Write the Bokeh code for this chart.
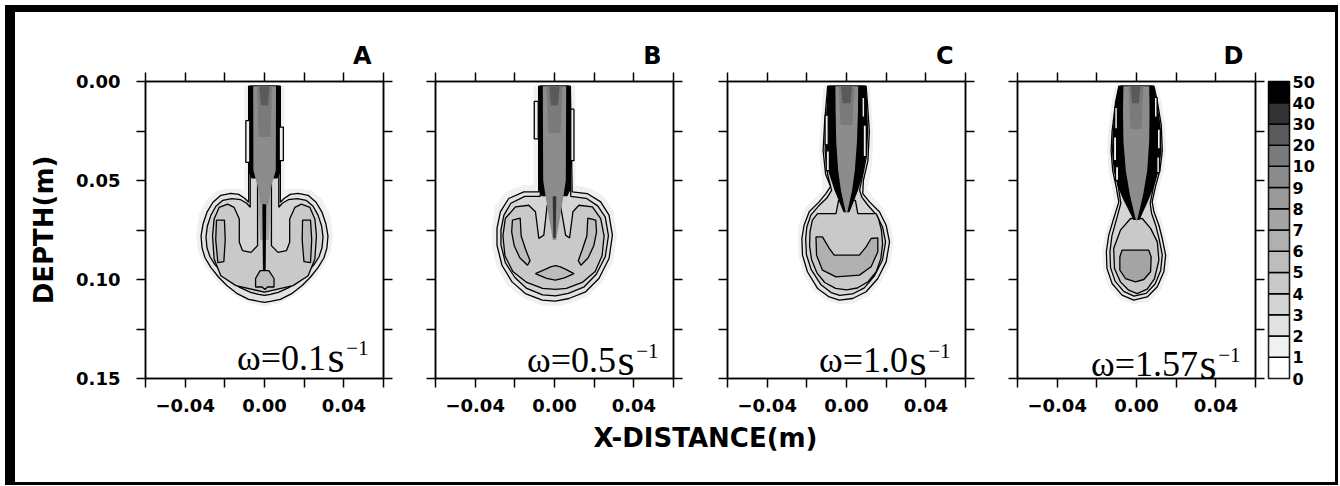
from bokeh.plotting import figure
from bokeh.models import Range1d, FixedTicker, LinearAxis, CustomJSTickFormatter, ColumnDataSource, Label
from bokeh.layouts import row, column
from bokeh.embed import file_html
from bokeh.resources import INLINE
from bokeh.core.properties import field

# ---------------- data ----------------
LEVEL_LABELS = ["0", "1", "2", "3", "4", "5", "6", "7", "8", "9", "10", "20", "30", "40", "50"]
COLORS = ["#ffffff", "#f0f0f0", "#e2e2e2", "#d5d5d5", "#c9c9c9", "#bdbdbd", "#b0b0b0",
          "#a4a4a4", "#9a9a9a", "#8c8c8c", "#7a7a7a", "#5a5a5a", "#333333", "#000000"]
LETTERS = ["A", "B", "C", "D"]
OMEGAS = ["0.1", "0.5", "1.0", "1.57"]
X_TICKS = [-0.04, 0.0, 0.04]
X_MINOR = [-0.06, -0.02, 0.02, 0.06]
Y_TICKS = [0.0, 0.05, 0.10, 0.15]
Y_MINOR = [0.025, 0.075, 0.125]

# contour regions: (colour index, outlined, x [mm], depth [mm])
A_SHAPES = [
    (1, False, [-10, -10, -17, -24, -29, -33, -34.5, -33.5, -30, -24, -16, -8, 0, 8, 16, 24, 30, 33.5, 34.5, 33, 29, 24, 17, 10, 10],
               [2, 54.5, 54, 55, 59.5, 67, 77.5, 86, 93, 101, 107.5, 112, 113.5, 112, 107.5, 101, 93, 86, 77.5, 67, 59.5, 55, 54, 54.5, 2]),
    (2, True, [-8, -8, -10, -13, -17, -22, -26, -29, -31, -32, -31.5, -30, -27, -23, -19, -14, -8, -3, 0, 3, 8, 14, 19, 23, 27, 30, 31.5, 32, 31, 29, 26, 22, 17, 13, 10, 8, 8],
              [2.4, 61, 59, 57, 56.5, 57.5, 61, 66, 72, 78, 84, 89, 94, 99, 103, 107, 110, 111, 111.5, 111, 110, 107, 103, 99, 94, 89, 84, 78, 72, 66, 61, 57.5, 56.5, 57, 59, 61, 2.4]),
    (3, True, [-7.2, -7.2, -9, -12, -16.5, -21, -24.5, -27, -28.8, -29.5, -29, -27.5, -25, -21, -17, -12.5, -7, -3, 0, 3, 7, 12.5, 17, 21, 25, 27.5, 29, 29.5, 28.8, 27, 24.5, 21, 16.5, 12, 9, 7.2, 7.2],
              [2.4, 63.5, 61.5, 59.7, 59.2, 60, 63, 67.5, 73, 78.5, 84, 88.5, 92.5, 97, 100.5, 104, 106.5, 107.5, 108, 107.5, 106.5, 104, 100.5, 97, 92.5, 88.5, 84, 78.5, 73, 67.5, 63, 60, 59.2, 59.7, 61.5, 63.5, 2.4]),
    (4, True, [-3.5, -3.5, -6.8, -11.1, -12.7, -12.7, -15.3, -18.6, -22.9, -25.4, -26.2, -25.4, -22.0, -14.4, 0, 14.4, 22.0, 25.4, 26.2, 25.4, 22.9, 18.6, 15.3, 12.7, 12.7, 11.1, 6.8, 3.5, 3.5],
              [47.6, 82.9, 86.3, 85.4, 81.2, 69.4, 63.6, 61.9, 63.6, 69.4, 77.9, 89.6, 98.1, 103.1, 106.4, 103.1, 98.1, 89.6, 77.9, 69.4, 63.6, 61.9, 63.6, 69.4, 81.2, 85.4, 86.3, 82.9, 47.6]),
    (5, True, [-24.2, -20.2, -19.8, -20.5, -23.5, -24.6], [70, 70, 80, 91, 91.5, 80]),
    (5, True, [19.2, 23.2, 23.8, 23.2, 19.9, 19.0], [70, 70, 80, 91.5, 91, 80]),
    (7, False, [-3.5, 3.5, 2.2, -2.2], [50, 50, 80, 80]),
    (13, False, [-1.2, 1.0, 0.6, -0.8], [50, 50, 95.5, 95.5]),
    (5, True, [-2.2, 2.2, 4.8, 4.8, 1.5, 0.2, -1.2, -4.5, -4.5], [95.5, 95.5, 99.5, 103.8, 103.8, 105, 103.8, 103.8, 99.5]),
    (13, False, [-8, 8, 8, 6.5, -6.5, -8], [2.4, 2.4, 46, 49, 49, 46]),
    (1, True, [-9.4, -7.4, -7.4, -9.4], [19.8, 19.8, 40.8, 40.8]),
    (1, True, [7.4, 9.5, 9.5, 7.4], [23, 23, 40, 40]),
    (9, False, [-5.7, 5.8, 5.7, 3.6, 2.0, -2.0, -3.6, -5.6], [2.4, 2.4, 45, 52, 62, 62, 52, 45]),
    (10, False, [-3.8, 3.8, 3.0, -3.0], [2.4, 2.4, 28, 28]),
    (11, False, [-2.6, 2.6, 1.8, -1.8], [2.4, 2.4, 12, 12]),
]

B_SHAPES = [
    (1, False, [-10.5, -10.5, -17, -25, -30, -31.5, -31.5, -29, -23.5, -15.5, -6.5, 0.5, 8, 16.5, 24, 29.5, 31.5, 30, 25, 17, 10.5, 10.5],
               [2, 52, 52.5, 56, 63, 74, 84, 94, 103.5, 109.5, 113, 113.5, 112, 108.5, 101.5, 91, 78, 66, 58, 53.5, 52.5, 2]),
    (2, True, [-7.9, -7.9, -15.5, -23.1, -27.3, -29.0, -29.0, -26.5, -21.4, -14.7, -6.2, 0.5, 7.3, 15.7, 22.4, 27.5, 29.2, 27.5, 23.3, 16.5, 8.9, 8.0],
              [2.4, 55.7, 55.7, 59.1, 65.8, 74.2, 82.7, 92.8, 101.2, 107.1, 110.4, 110.9, 109.6, 106.2, 99.5, 89.4, 77.6, 67.5, 60.8, 56.6, 55.7, 2.4]),
    (3, True, [-7.2, -7.2, -15, -22, -25.5, -27, -27, -24.8, -20, -14, -6, 0.5, 7, 15, 21, 25.6, 27.2, 25.6, 21.8, 16, 8.2, 7.3],
              [2.4, 58, 58, 61.5, 67.5, 75, 82.5, 91.5, 99, 104.5, 107.8, 108.3, 107, 103.7, 97.5, 88.5, 77.8, 68.5, 62.8, 59, 58, 2.4]),
    (4, True, [-3.7, -5.4, -7.9, -9.6, -13.0, -19.7, -24.8, -26, -25, -21, -14, -6, 0.5, 6, 14, 20.5, 24, 25, 23.3, 19.1, 12.3, 9.3, 7.6, 5.6, 3.0],
              [62.5, 77.6, 79.3, 65.8, 62.5, 63.3, 69.2, 78, 88, 96, 101.5, 104.5, 105, 104.5, 101.5, 96, 88, 78, 69.2, 63.3, 62.5, 65.8, 79.0, 77.6, 62.5]),
    (5, True, [-21.2, -17.3, -16.8, -14.5, -12.3, -13.6, -17.5, -20.3, -21.6], [70, 69, 78, 85, 90.5, 92.8, 89, 83, 76]),
    (5, True, [20.8, 16.8, 16.3, 14, 12, 13.3, 17, 19.8, 21.2], [70, 69, 78, 85, 90.5, 92.8, 89, 83, 76]),
    (5, True, [-9.6, -5, -2, 0.5, 3, 6, 9.8, 5, 0.5, -4], [97, 95, 93.6, 93, 93.6, 95, 97, 99.2, 100.3, 99.4]),
    (13, False, [-8.3, 8.3, 8.3, 6.5, -6.5, -8.3], [2.4, 2.4, 54, 58, 58, 54]),
    (1, True, [-10.2, -8.2, -8.2, -10.2], [10, 10, 29, 29]),
    (1, True, [8.2, 9.8, 9.8, 8.2], [14, 14, 40, 40]),
    (9, False, [-5.9, 5.9, 5.7, 4.5, 2.2, 0.8, -0.8, -2.2, -4.5, -5.7], [2.4, 2.4, 50, 58, 72, 80, 80, 72, 58, 50]),
    (12, False, [-0.9, 0.9, 0.6, -0.6], [58, 58, 79, 79]),
    (10, False, [-4, 4, 3, -3], [2.4, 2.4, 26, 26]),
    (11, False, [-2.6, 2.6, 1.8, -1.8], [2.4, 2.4, 12, 12]),
]

C_SHAPES = [
    (1, False, [-11.5, -13, -13.8, -12.5, -12, -16, -21, -24, -24.5, -24, -21.5, -16, -9, -3.6, 3.5, 11, 17.5, 22, 23.8, 22, 18.5, 13.5, 10.5, 12.5, 13.5, 12.5, 11.5],
               [2, 20, 35, 48, 55, 59, 64, 72, 80, 89, 98, 106.5, 111, 112.6, 112, 108.5, 101, 92, 81, 71.5, 64, 58.5, 54, 45, 30, 12, 2]),
    (2, True, [-9.5, -11, -11.8, -10.5, -8, -10.4, -13.8, -18.8, -21.4, -22.5, -22.2, -19.7, -14.6, -8.7, -3.6, 3.1, 9.9, 15.8, 20.0, 21.7, 20.0, 16.6, 11.6, 8.2, 8.5, 10.8, 11.5, 10.5, 9.9],
              [2.4, 20, 35, 47, 53, 56.6, 60.8, 65.8, 72.6, 79.3, 87.7, 96.1, 104.5, 108.8, 110.4, 109.6, 106.2, 99.5, 91.1, 81.0, 72.6, 65.8, 60.8, 56.6, 50, 40, 25, 10, 2.4]),
    (3, True, [-8.7, -10.2, -10.8, -9.5, -7.5, -10, -14, -18, -20, -20.6, -20.2, -17.8, -13, -7.8, -3.4, 3, 9, 14.2, 18.1, 19.7, 18.2, 15.2, 10.8, 7.8, 6.6, 8, 10, 10.6, 9.8, 9.1],
              [2.4, 20, 35, 47, 55, 59, 62.8, 67.5, 73.5, 79.5, 87.5, 95, 102.5, 106.6, 108, 107.3, 104.2, 98, 90.3, 81, 73.5, 67.5, 62.5, 58.5, 55, 48, 38, 25, 10, 2.4]),
    (4, True, [-5.3, -14.6, -17.2, -18.4, -18.6, -17.6, -15, -11, -5.5, 0, 5.5, 11, 15, 17.3, 18.2, 17.6, 16.2, 14.9, 5.7, 4.5, -4],
              [66.7, 66.7, 70, 76, 83, 90, 96.5, 101.5, 104.5, 105.2, 104.3, 101, 96, 89.5, 82, 75, 69.5, 66.7, 66.7, 60, 60]),
    (6, True, [-15.4, -12.1, -8.7, -6.2, 6.5, 9.9, 12.4, 15.8, 15.8, 12.4, 6.5, -5.3, -12.1, -15.1],
              [78.5, 78.5, 84.3, 87.7, 87.7, 83.5, 79.3, 79.0, 86.0, 93.6, 97.8, 98.7, 95.3, 87.7]),
    (13, False, [-9.5, -10.3, -10.5, -9.0, -6.0, -1.5, 1.5, 5.8, 8.0, 9.8, 10.6, 10.3, 9.9],
               [2.4, 20, 35, 46, 55, 66, 66, 55, 48, 38, 25, 10, 2.4]),
    (1, True, [-10.8, -9.2, -9.2, -10.8], [17, 17, 32, 32]),
    (1, True, [-10.2, -8.6, -8.6, -10.2], [35, 35, 45, 45]),
    (1, True, [8.4, 10.0, 10.0, 8.4], [22, 22, 38, 38]),
    (1, True, [7.8, 9.2, 9.2, 7.8], [8, 8, 18, 18]),
    (9, False, [-5.6, 5.9, 5.8, 5.3, 4.2, 2.8, 0.4, -0.4, -2.8, -4.2, -5.2, -5.5], [2.4, 2.4, 15, 30, 45, 55, 66, 66, 55, 45, 30, 15]),
    (10, False, [-4, 4, 3, -3], [2.4, 2.4, 22, 22]),
    (11, False, [-2.8, 2.8, 2, -2], [2.4, 2.4, 11, 11]),
]

D_SHAPES = [
    (1, False, [-10.5, -12.5, -14.3, -14.8, -14, -12.5, -11, -13.5, -16, -17.2, -16.9, -14.2, -8.5, -1.4, 6.3, 12.3, 15.8, 16.7, 15, 13.3, 10.8, 10, 11.6, 13.8, 15, 14.5, 12.5, 10.5],
               [2, 10, 25, 35, 45, 53, 61, 69, 77.5, 86, 95, 103.5, 110, 112.6, 111, 105.3, 97, 87.7, 78.8, 72, 65.5, 60.5, 53, 45, 35, 22, 10, 2]),
    (2, True, [-8.9, -10.5, -12.3, -12.8, -12, -10.3, -8.9, -11.5, -14.0, -15.2, -14.9, -12.3, -7.3, -1.4, 5.4, 10.5, 13.8, 14.7, 13.0, 11.3, 8.8, 7.9, 9.6, 11.8, 13, 12.5, 10.5, 8.8],
              [2.4, 10, 25, 35, 45, 53, 60.8, 69.2, 77.6, 86.0, 94.4, 102.0, 107.9, 110.4, 108.8, 103.7, 96.1, 87.7, 79.3, 72.6, 65.8, 60.8, 53, 45, 35, 22, 10, 2.4]),
    (3, True, [-8.1, -9.6, -11.2, -11.6, -10.8, -9.2, -7.9, -10.2, -12.4, -13.4, -13.1, -10.8, -6.5, -1.3, 4.9, 9.4, 12.2, 13.0, 11.4, 9.8, 7.6, 6.9, 8.6, 10.7, 11.8, 11.4, 9.6, 8.0],
              [2.4, 10, 25, 35, 45, 53, 61.5, 70, 78, 86, 94, 100.8, 106, 108.4, 107, 102.3, 95.4, 87.6, 79.5, 73, 66.5, 61.5, 53, 45, 35, 22, 10, 2.4]),
    (4, True, [-3.0, -8.1, -11.5, -11.1, -8.1, -3.9, 0.3, 5.4, 9.1, 11.3, 10.5, 7.1, 2.9],
              [69.2, 75.1, 84.3, 94.4, 101.2, 105.4, 107.1, 104.9, 99.5, 90.2, 81.0, 74.2, 69.2]),
    (7, True, [-7.3, 6.2, 7.4, 7.1, 3.7, -0.5, -5.6, -8.4, -8.4], [85.2, 85.2, 88.6, 96.1, 100, 101.2, 99.5, 95.3, 88.6]),
    (13, False, [-8.9, -10.5, -12.0, -12.4, -11.5, -9.5, -6.5, -1.5, 1.5, 6, 8.8, 11.2, 12.6, 12.1, 10.3, 8.8],
               [2.4, 10, 25, 35, 45, 53, 60, 70, 70, 60, 53, 45, 35, 22, 10, 2.4]),
    (1, True, [-11.0, -9.6, -9.6, -11.0], [13, 13, 24, 24]),
    (1, True, [-11.6, -10.0, -10.0, -11.6], [28, 28, 40, 40]),
    (1, True, [-10.6, -9.0, -9.0, -10.6], [43, 43, 50, 50]),
    (1, True, [9.0, 10.4, 10.4, 9.0], [8, 8, 18, 18]),
    (1, True, [10.5, 12.0, 12.0, 10.5], [24, 24, 34, 34]),
    (1, True, [10.2, 11.6, 11.6, 10.2], [38, 38, 46, 46]),
    (9, False, [-6.6, 6.4, 6.6, 6.4, 5.4, 3.4, 0.8, 0, -0.8, -3.4, -5.4, -6.6, -6.8], [2.4, 2.4, 15, 30, 45, 57, 68, 71, 68, 57, 45, 30, 15]),
    (10, False, [-4, 3.5, 2.5, -3], [2.4, 2.4, 24, 24]),
    (11, False, [-3, 2, 1.2, -2.2], [2.4, 2.4, 11, 11]),
]

PANEL_SHAPES = [A_SHAPES, B_SHAPES, C_SHAPES, D_SHAPES]

# ---------------- layout constants ----------------
BOLD = "DejaVu Sans"
SERIF = "Liberation Serif"
FRAME_W, FRAME_H = 238, 297
BORDER_TOP, BORDER_BOTTOM = 69, 40
PANEL_BORDERS = [(130, 25), (27, 27), (27, 26), (26, 12)]
TEXT_BASE = [0.1394, 0.1409, 0.1409, 0.1429]


def style_axis(ax, ticks, minor, show, standoff):
    ax.ticker = FixedTicker(ticks=ticks, minor_ticks=minor)
    ax.axis_line_color = "black"
    ax.axis_line_width = 1.5
    ax.major_tick_line_color = "black"
    ax.major_tick_line_width = 1.5
    ax.minor_tick_line_color = "black"
    ax.minor_tick_line_width = 1.5
    ax.major_tick_in = 0
    ax.major_tick_out = 9
    ax.minor_tick_in = 0
    ax.minor_tick_out = 9
    ax.major_label_text_font = BOLD
    ax.major_label_text_font_style = "bold"
    ax.major_label_text_font_size = "18px"
    ax.major_label_text_color = "black"
    if show:
        ax.formatter = CustomJSTickFormatter(code="return tick.toFixed(2).replace('-', '\u2212');")
        ax.major_label_standoff = standoff
    else:
        ax.formatter = CustomJSTickFormatter(code="return '';")
        ax.major_label_standoff = 0


def make_panel(i):
    left, right = PANEL_BORDERS[i]
    p = figure(frame_width=FRAME_W, frame_height=FRAME_H,
               x_range=Range1d(-0.06, 0.06), y_range=Range1d(0.15, 0.0),
               min_border_left=left, min_border_right=right,
               min_border_top=BORDER_TOP, min_border_bottom=BORDER_BOTTOM,
               toolbar_location=None, tools="", output_backend="svg")
    p.grid.visible = False
    p.outline_line_color = "black"
    p.outline_line_width = 1.5
    shapes = PANEL_SHAPES[i]
    src = ColumnDataSource(dict(
        xs=[[v / 1000.0 for v in s[2]] for s in shapes],
        ys=[[v / 1000.0 for v in s[3]] for s in shapes],
        fill=[COLORS[s[0]] for s in shapes],
        la=[1.0 if s[1] else 0.0 for s in shapes],
    ))
    p.patches("xs", "ys", source=src, fill_color=field("fill"), line_color="black",
              line_alpha=field("la"), line_width=1.3)

    xb = p.xaxis[0]
    yl = p.yaxis[0]
    xt = LinearAxis()
    yr = LinearAxis()
    p.add_layout(xt, "above")
    p.add_layout(yr, "right")
    style_axis(xb, X_TICKS, X_MINOR, True, 11)
    style_axis(xt, X_TICKS, X_MINOR, False, 0)
    style_axis(yl, Y_TICKS, Y_MINOR, i == 0, 16)
    style_axis(yr, Y_TICKS, Y_MINOR, False, 0)
    if i == 0:
        yl.axis_label = "DEPTH(m)"
        yl.axis_label_text_font = BOLD
        yl.axis_label_text_font_style = "bold"
        yl.axis_label_text_font_size = "26px"
        yl.axis_label_text_color = "black"
        yl.axis_label_standoff = 14

    p.title.text = LETTERS[i]
    p.title.align = "right"
    p.title.text_font = BOLD
    p.title.text_font_style = "bold"
    p.title.text_font_size = "24px"
    p.title.text_color = "black"
    p.title.standoff = 5
    p.title.offset = 12

    base = TEXT_BASE[i]
    p.add_layout(Label(x=0.031, y=base, text="ω=" + OMEGAS[i], text_align="right",
                       text_baseline="alphabetic", text_font=SERIF, text_font_size="36px",
                       text_color="black"))
    p.add_layout(Label(x=0.0318, y=base, text="s", text_align="left",
                       text_baseline="alphabetic", text_font=SERIF, text_font_size="44px",
                       text_color="black"))
    p.add_layout(Label(x=0.0412, y=base - 0.0050, text="−1", text_align="left",
                       text_baseline="alphabetic", text_font=SERIF, text_font_size="21px",
                       text_color="black"))
    return p


panels = [make_panel(i) for i in range(4)]

# colour bar
n = len(COLORS)
cb = figure(frame_width=21, frame_height=FRAME_H, x_range=Range1d(0, 1), y_range=Range1d(0, n),
            min_border_left=1, min_border_right=46, min_border_top=BORDER_TOP,
            min_border_bottom=BORDER_BOTTOM, toolbar_location=None, tools="",
            output_backend="svg", x_axis_location=None, y_axis_location=None)
cb.grid.visible = False
cb.outline_line_color = "black"
cb.outline_line_width = 1.5
cb.quad(left=0, right=1, bottom=list(range(n)), top=list(range(1, n + 1)),
        fill_color=COLORS, line_color="black", line_width=1.5)
cax = LinearAxis(ticker=FixedTicker(ticks=list(range(len(LEVEL_LABELS)))),
                 major_label_overrides={k: LEVEL_LABELS[k] for k in range(len(LEVEL_LABELS))})
cax.axis_line_color = None
cax.major_tick_line_color = None
cax.major_tick_out = 0
cax.major_tick_in = 0
cax.major_label_standoff = 3
cax.major_label_text_font = BOLD
cax.major_label_text_font_style = "bold"
cax.major_label_text_font_size = "16px"
cax.major_label_text_color = "black"
cb.add_layout(cax, "right")

# bottom strip with the shared x label
bottom = figure(width=1320, height=64, x_range=Range1d(0, 1320), y_range=Range1d(0, 64),
                min_border=0, toolbar_location=None, tools="", output_backend="svg",
                x_axis_location=None, y_axis_location=None)
bottom.grid.visible = False
bottom.outline_line_color = None
bottom.add_layout(Label(x=690, y=45, text="X-DISTANCE(m)", text_align="center",
                        text_baseline="alphabetic", text_font=BOLD, text_font_style="bold",
                        text_font_size="26px", text_color="black"))

layout = column(row(*panels, cb), bottom,
                styles={"margin-left": "5px", "margin-top": "5px",
                        "border-left": "10px solid black", "border-top": "7px solid black",
                        "border-right": "3px solid black", "border-bottom": "3px solid black"})

open("out.html", "w").write(file_html(layout, INLINE))
